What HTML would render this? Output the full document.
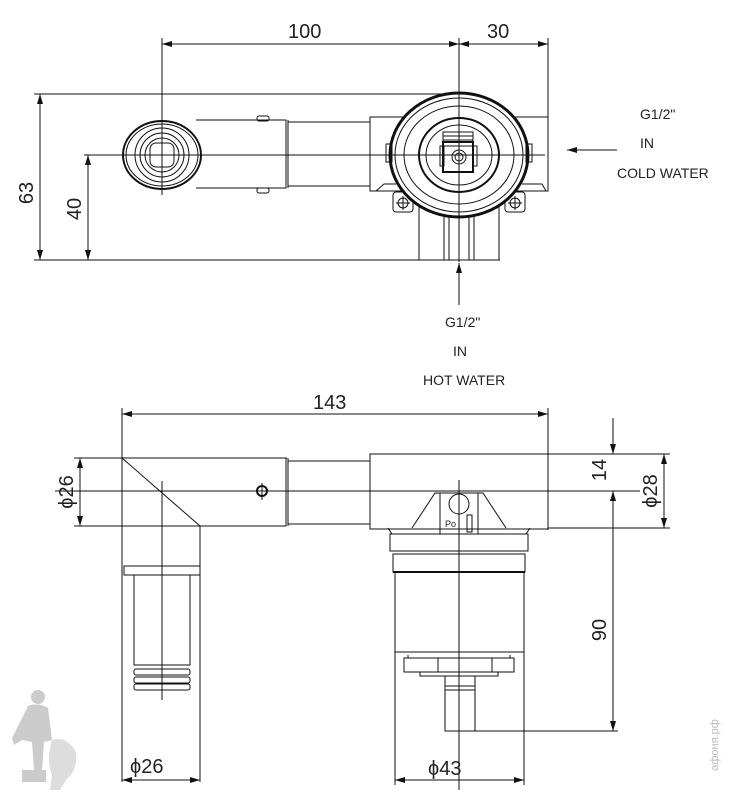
<!DOCTYPE html>
<html><head><meta charset="utf-8"><style>
html,body{margin:0;padding:0;background:#fff;}
svg{display:block;}
text{font-family:"Liberation Sans",sans-serif;fill:#222;}
</style></head><body>
<svg width="733" height="803" viewBox="0 0 733 803" xmlns="http://www.w3.org/2000/svg">
<defs>
<marker id="a" viewBox="0 0 10 6" refX="10" refY="3" markerWidth="10" markerHeight="6" orient="auto-start-reverse" markerUnits="userSpaceOnUse"><path d="M0,0 L10,3 L0,6z" fill="#111"/></marker>
</defs>
<g stroke="#111" stroke-width="1" fill="none">
<!-- ===== TOP VIEW ===== -->
<!-- dims -->
<line x1="162" y1="44" x2="459" y2="44" marker-start="url(#a)" marker-end="url(#a)"/>
<line x1="459" y1="44" x2="548" y2="44" marker-start="url(#a)" marker-end="url(#a)"/>
<line x1="162" y1="38" x2="162" y2="195"/>
<line x1="459" y1="38" x2="459" y2="262"/>
<line x1="548" y1="38" x2="548" y2="117"/>
<line x1="40" y1="94" x2="40" y2="260" marker-start="url(#a)" marker-end="url(#a)"/>
<line x1="34" y1="94" x2="470" y2="94"/>
<line x1="34" y1="260" x2="500" y2="260"/>
<line x1="88" y1="155" x2="88" y2="260" marker-start="url(#a)" marker-end="url(#a)"/>
<line x1="84" y1="155" x2="545" y2="155"/>
<!-- left circle -->
<ellipse cx="162" cy="155" rx="39" ry="34" stroke-width="2"/>
<ellipse cx="162" cy="155" rx="36" ry="31"/>
<circle cx="162" cy="155" r="27"/>
<circle cx="162" cy="155" r="22"/>
<circle cx="162" cy="155" r="17"/>
<rect x="150" y="143" width="24" height="24" rx="6"/>
<!-- pipe -->
<path d="M196,120 H286 V188 H196"/>
<rect x="257" y="116" width="12" height="5" rx="2"/>
<rect x="257" y="188" width="12" height="5" rx="2"/>
<line x1="288" y1="120" x2="288" y2="188"/>
<rect x="288" y="122" width="82" height="64"/>
<rect x="370" y="117" width="178" height="74"/>
<!-- stem -->
<rect x="419" y="190" width="80" height="70"/>
<path d="M444,200 V260 M449,200 V260 M469,200 V260 M474,200 V260"/>
<!-- flanges -->
<path d="M376,191 L384,184 H396 M522,184 H542 L546,191" />
<rect x="393" y="192" width="20" height="20" rx="3"/>
<rect x="505" y="192" width="20" height="20" rx="3"/>
<circle cx="403" cy="203" r="5"/><path d="M396,203 H410 M403,196 V210"/>
<circle cx="515" cy="203" r="5"/><path d="M508,203 H522 M515,196 V210"/>
<!-- big circle -->
<ellipse cx="459" cy="155" rx="69" ry="62" fill="#fff" stroke-width="3"/>
<ellipse cx="459" cy="155" rx="64" ry="57"/>
<ellipse cx="459" cy="155" rx="55" ry="49"/>
<ellipse cx="459" cy="155" rx="40" ry="37" stroke-width="2"/>
<ellipse cx="459" cy="155" rx="33" ry="30"/>
<rect x="443" y="132" width="30" height="14"/>
<path d="M443,136 H473 M443,140 H473"/>
<rect x="443" y="142" width="30" height="30" stroke-width="2"/>
<rect x="440" y="146" width="4" height="20"/><rect x="473" y="146" width="4" height="20"/>
<circle cx="459" cy="157" r="7"/><circle cx="459" cy="157" r="4"/>
<rect x="386" y="144" width="6" height="18"/><rect x="526" y="144" width="6" height="18"/>
<line x1="380" y1="155" x2="545" y2="155"/>
<line x1="459" y1="38" x2="459" y2="262"/>
<!-- water arrows -->
<line x1="617" y1="150" x2="567" y2="150" marker-end="url(#a)"/>
<line x1="459" y1="305" x2="459" y2="263" marker-end="url(#a)"/>

<!-- ===== BOTTOM VIEW ===== -->
<line x1="122" y1="414" x2="548" y2="414" marker-start="url(#a)" marker-end="url(#a)"/>
<line x1="122" y1="408" x2="122" y2="782"/>
<line x1="548" y1="408" x2="548" y2="530"/>
<line x1="80" y1="458" x2="80" y2="526" marker-start="url(#a)" marker-end="url(#a)"/>
<line x1="74" y1="458" x2="287" y2="458"/>
<line x1="74" y1="526" x2="200" y2="526"/>
<line x1="55" y1="491" x2="640" y2="491"/>
<!-- elbow -->
<path d="M122,458 H286 V526 H200"/>
<line x1="288" y1="458" x2="288" y2="526"/>
<line x1="122" y1="458" x2="200" y2="526"/>
<line x1="200" y1="526" x2="200" y2="782"/>
<rect x="124" y="566" width="76" height="9"/>
<path d="M134,575 V665 H190 V575"/>
<rect x="134" y="669" width="56" height="6" rx="2"/>
<rect x="134" y="677" width="56" height="6" rx="2"/>
<rect x="134" y="684" width="56" height="6" rx="2"/>
<line x1="162" y1="481" x2="162" y2="700"/>
<circle cx="262" cy="491" r="5" stroke-width="2"/>
<line x1="262" y1="483" x2="262" y2="500"/>
<!-- tube & box -->
<rect x="288" y="461" width="82" height="63"/>
<rect x="370" y="454" width="178" height="75"/>
<!-- cartridge top -->
<path d="M412,528 L435,493 H442 M476,493 H483 L506,528"/>
<rect x="440" y="493" width="38" height="41"/>
<circle cx="459" cy="504" r="10"/>
<rect x="467" y="515" width="5" height="17"/>
<text x="445" y="527" font-size="9" stroke="none">Po</text>
<path d="M388,528 L392,534 H526 L530,528"/>
<rect x="390" y="534" width="138" height="17"/>
<rect x="393" y="554" width="132" height="18"/>
<line x1="393" y1="572" x2="525" y2="572" stroke-width="2"/>
<rect x="395" y="572" width="129" height="80"/>
<path d="M404,658 H514 V672 H404z M408,655 V658 M510,655 V658"/>
<path d="M438,658 V672 M492,658 V672 M420,672 V676 H498 V672"/>
<rect x="445" y="676" width="30" height="55"/>
<line x1="445" y1="686" x2="475" y2="686"/>
<line x1="445" y1="690" x2="475" y2="690"/>
<line x1="459" y1="480" x2="459" y2="790"/>
<line x1="395" y1="652" x2="395" y2="785"/>
<line x1="524" y1="652" x2="524" y2="785"/>
<!-- right dims -->
<line x1="548" y1="454" x2="670" y2="454"/>
<line x1="548" y1="528" x2="670" y2="528"/>
<line x1="600" y1="491" x2="618" y2="491"/>
<line x1="613" y1="418" x2="613" y2="454" marker-end="url(#a)"/>
<line x1="613" y1="491" x2="613" y2="731" marker-start="url(#a)" marker-end="url(#a)"/>
<line x1="664" y1="454" x2="664" y2="528" marker-start="url(#a)" marker-end="url(#a)"/>
<line x1="475" y1="731" x2="618" y2="731"/>
<!-- bottom dims -->
<line x1="122" y1="780" x2="200" y2="780" marker-start="url(#a)" marker-end="url(#a)"/>
<line x1="395" y1="780" x2="524" y2="780" marker-start="url(#a)" marker-end="url(#a)"/>
</g>
<!-- texts -->
<g font-size="20">
<text x="288" y="38">100</text>
<text x="487" y="38">30</text>
<text x="313" y="409">143</text>
<text transform="translate(33,193) rotate(-90)" text-anchor="middle">63</text>
<text transform="translate(81,209) rotate(-90)" text-anchor="middle">40</text>
<text transform="translate(73,492) rotate(-90)" text-anchor="middle">ϕ26</text>
<text transform="translate(606,470) rotate(-90)" text-anchor="middle">14</text>
<text transform="translate(657,491) rotate(-90)" text-anchor="middle">ϕ28</text>
<text transform="translate(606,630) rotate(-90)" text-anchor="middle">90</text>
<text x="130" y="773">ϕ26</text>
<text x="428" y="775">ϕ43</text>
</g>
<g font-size="14">
<text x="640" y="119">G1/2"</text>
<text x="640" y="148">IN</text>
<text x="617" y="178">COLD WATER</text>
<text x="445" y="327">G1/2"</text>
<text x="453" y="356">IN</text>
<text x="423" y="385">HOT WATER</text>
</g>
<text transform="translate(718,745) rotate(-90)" text-anchor="middle" font-size="11" fill="#bbb" style="fill:#bbb">афоня.рф</text>
<!-- watermark figure -->
<g fill="#ccc">
<circle cx="38" cy="697" r="7"/>
<path d="M28,706 Q38,702 48,708 L52,740 L44,742 L42,770 L34,770 L32,742 L22,740 L14,745 L12,738 Z"/>
<path d="M52,740 Q66,735 76,752 Q78,770 66,780 L60,790 L50,790 L52,775 Q46,760 52,740Z" fill="#ddd"/>
<rect x="22" y="770" width="24" height="12"/>
</g>
</svg>
</body></html>
